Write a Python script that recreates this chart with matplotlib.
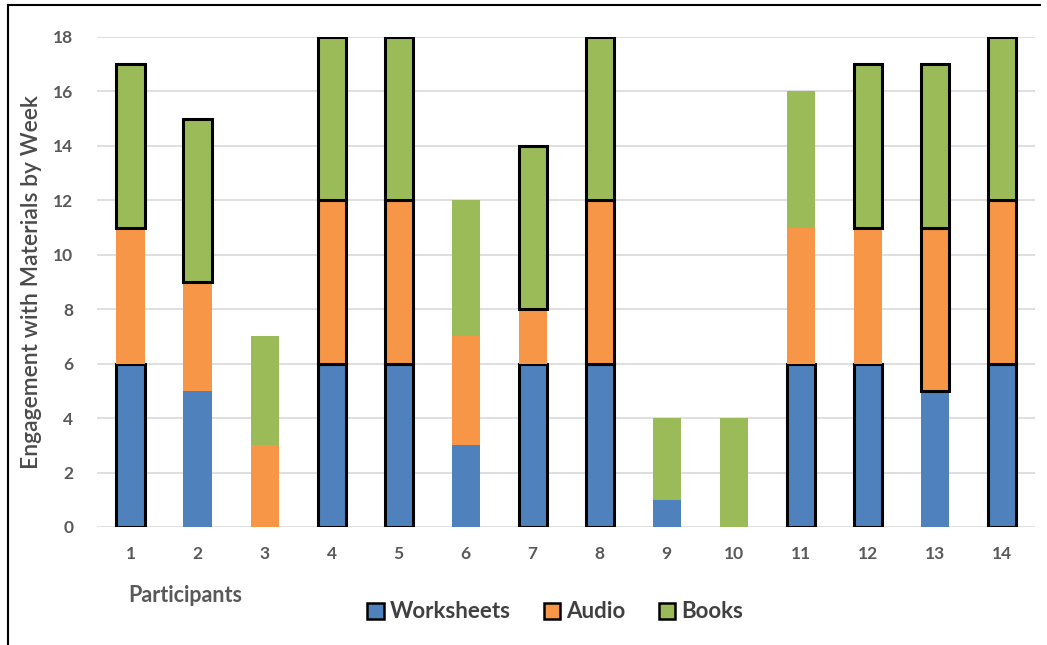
import numpy as np
import matplotlib.pyplot as plt
from matplotlib.patches import Patch
from matplotlib.lines import Line2D

plt.rcParams['font.family'] = ['Lato', 'DejaVu Sans']

# Semaines d'engagement par participant
participants = [str(i) for i in range(1, 15)]
worksheets = [6, 5, 0, 6, 6, 3, 6, 6, 1, 0, 6, 6, 5, 6]
audio = [5, 4, 3, 6, 6, 4, 2, 6, 0, 0, 5, 5, 6, 6]
books = [6, 6, 4, 6, 6, 5, 6, 6, 3, 4, 5, 6, 6, 6]

# segments encadrés en noir
outline_w = [1, 0, 0, 1, 1, 0, 1, 1, 0, 0, 1, 1, 0, 1]
outline_a = [0, 0, 0, 1, 1, 0, 0, 1, 0, 0, 0, 0, 1, 1]
outline_b = [1, 1, 0, 1, 1, 0, 1, 1, 0, 0, 0, 1, 1, 1]

c_blue = '#4F81BD'
c_orange = '#F79646'
c_green = '#9BBB59'
txt = '#595959'

fig = plt.figure(figsize=(10.47, 6.45), dpi=100)
ax = fig.add_axes([0.0927, 0.183, 0.896, 0.7597])

x = np.arange(1, 15)
w = 0.42

series = [(worksheets, outline_w, c_blue),
          (audio, outline_a, c_orange),
          (books, outline_b, c_green)]
bottom = np.zeros(14)
for vals, flags, col in series:
    vals = np.array(vals, dtype=float)
    for i in range(14):
        if vals[i] == 0:
            continue
        ax.bar(x[i], vals[i], w, bottom=bottom[i], color=col,
               edgecolor='black' if flags[i] else col,
               linewidth=2.2 if flags[i] else 0, zorder=3)
    bottom += vals

ax.set_xlim(0.5, 14.5)
ax.set_ylim(0, 18)
ax.set_yticks(range(0, 19, 2))
ax.set_xticks(x)
ax.set_xticklabels(participants)
ax.grid(axis='y', color='#D9D9D9', linewidth=1.2, zorder=0)
for s in ax.spines.values():
    s.set_visible(False)
ax.tick_params(length=0, labelsize=12.5, labelcolor=txt)
ax.tick_params(axis='x', pad=14)
ax.tick_params(axis='y', pad=17)
for lab in ax.get_xticklabels() + ax.get_yticklabels():
    lab.set_fontweight('bold')

ax.set_ylabel('Engagement with Materials by Week', fontsize=16.5, fontweight='semibold',
              color='#4a4a4a', labelpad=8)

fig.text(128 / 1047, 1 - 595 / 645, 'Participants', fontsize=15.5, fontweight='bold',
         color=txt, va='center', ha='left')

handles = [Patch(facecolor=c, edgecolor='black', linewidth=1.8) for c in (c_blue, c_orange, c_green)]
leg = fig.legend(handles, ['Worksheets', 'Audio', 'Books'], loc='center',
                 bbox_to_anchor=(555 / 1047, 1 - 612 / 645), ncol=3, frameon=False,
                 prop={'size': 16, 'weight': 'bold'}, handlelength=0.75, handleheight=0.75,
                 handletextpad=0.25, columnspacing=1.5)
for t in leg.get_texts():
    t.set_color('#404040')

# cadre
fig.add_artist(Line2D([8 / 1047, 1040 / 1047], [1 - 5 / 645] * 2, color='black', linewidth=1.5))
fig.add_artist(Line2D([8 / 1047] * 2, [0, 1 - 5 / 645], color='black', linewidth=1.5))

fig.savefig('out.png', dpi=100)
